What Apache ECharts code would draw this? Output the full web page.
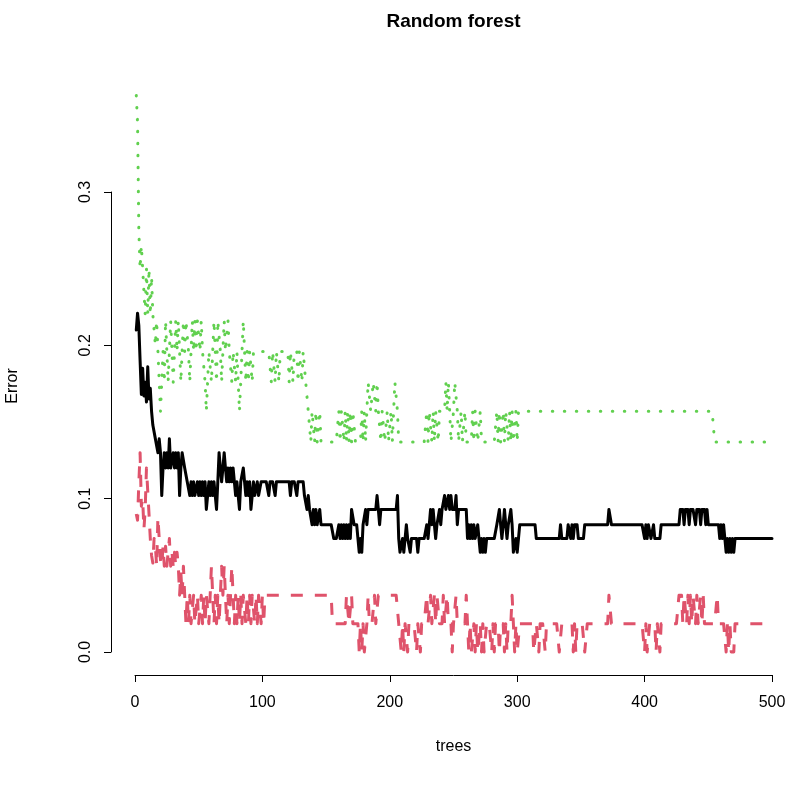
<!DOCTYPE html>
<html>
<head>
<meta charset="utf-8">
<script src="https://cdn.jsdelivr.net/npm/echarts@6/dist/echarts.min.js"></script>
<style>
html,body{margin:0;padding:0;background:#fff;}
#chart{width:800px;height:788px;}
</style>
</head>
<body>
<div id="chart"></div>
<script>
// Error rates, stored as change points: [tree, value], value held until next change point.
const nTrees = 500;
const xTicks = [0, 100, 200, 300, 400, 500];
const yTicks = [0.0, 0.1, 0.2, 0.3];

const oobSteps = [[1,.210],[2,.221],[3,.213],[4,.190],[5,.168],[6,.185],[7,.167],[8,.176],[9,.163],[10,.186],[11,.165],[12,.172],[13,.157],[14,.148],[16,.139],[18,.130],[19,.139],[20,.130],[21,.102],[22,.120],[23,.130],[24,.120],[25,.130],[26,.120],[27,.139],[28,.120],[30,.130],[31,.120],[32,.130],[33,.120],[34,.130],[35,.102],[36,.120],[37,.130],[39,.120],[41,.111],[43,.102],[44,.111],[45,.102],[46,.111],[47,.102],[49,.111],[50,.102],[51,.111],[52,.102],[53,.111],[54,.102],[55,.111],[56,.093],[57,.102],[58,.111],[59,.102],[60,.111],[61,.102],[62,.111],[63,.102],[64,.093],[65,.111],[66,.130],[67,.120],[68,.111],[69,.120],[70,.130],[71,.120],[72,.111],[73,.120],[74,.111],[75,.120],[76,.111],[77,.120],[78,.111],[79,.102],[80,.111],[81,.102],[82,.093],[83,.111],[85,.120],[86,.111],[87,.102],[88,.111],[89,.102],[90,.111],[91,.093],[92,.102],[93,.111],[94,.102],[96,.111],[97,.102],[99,.111],[105,.102],[106,.111],[110,.102],[111,.111],[122,.102],[123,.111],[127,.102],[128,.111],[133,.102],[135,.093],[136,.102],[137,.093],[139,.083],[140,.093],[141,.083],[142,.093],[143,.083],[145,.093],[146,.083],[156,.074],[160,.083],[161,.074],[162,.083],[163,.074],[164,.083],[165,.074],[166,.083],[167,.074],[168,.083],[169,.074],[170,.093],[172,.083],[175,.074],[176,.065],[177,.074],[178,.065],[179,.083],[181,.093],[182,.083],[183,.093],[190,.102],[191,.093],[192,.083],[193,.093],[206,.102],[207,.074],[208,.065],[210,.074],[211,.065],[213,.083],[214,.074],[216,.065],[217,.074],[222,.065],[223,.074],[229,.083],[230,.074],[231,.083],[232,.093],[233,.083],[234,.093],[235,.083],[236,.074],[237,.083],[239,.093],[240,.083],[241,.093],[243,.102],[244,.093],[246,.102],[247,.093],[248,.102],[249,.093],[252,.102],[253,.083],[254,.093],[261,.074],[262,.083],[263,.074],[264,.083],[265,.074],[266,.083],[267,.074],[269,.083],[270,.074],[271,.065],[272,.074],[273,.065],[274,.074],[275,.065],[276,.074],[284,.083],[286,.093],[287,.083],[288,.074],[289,.083],[290,.093],[291,.083],[292,.074],[293,.083],[295,.093],[296,.083],[297,.065],[299,.074],[300,.065],[301,.074],[302,.083],[315,.074],[334,.083],[335,.074],[340,.083],[342,.074],[343,.083],[344,.074],[345,.083],[348,.074],[353,.083],[372,.093],[374,.083],[400,.074],[401,.083],[402,.074],[403,.083],[405,.074],[407,.083],[408,.074],[413,.083],[428,.093],[431,.083],[432,.093],[435,.083],[436,.093],[440,.083],[441,.093],[444,.083],[445,.093],[448,.083],[449,.093],[450,.083],[459,.074],[460,.083],[461,.074],[462,.083],[463,.074],[464,.065],[465,.074],[466,.065],[467,.074],[468,.065],[469,.074],[470,.065],[471,.074]];

const class1Steps = [[1,.090],[2,.086],[3,.110],[4,.130],[5,.095],[6,.100],[7,.080],[8,.093],[9,.120],[10,.105],[11,.090],[12,.074],[13,.063],[14,.058],[15,.074],[16,.069],[17,.056],[18,.088],[19,.074],[20,.060],[21,.056],[22,.069],[23,.056],[24,.069],[25,.056],[26,.065],[27,.074],[28,.056],[29,.065],[30,.056],[31,.065],[32,.056],[33,.065],[34,.056],[35,.037],[36,.052],[37,.037],[38,.056],[39,.037],[40,.0185],[41,.037],[42,.0185],[43,.037],[44,.0185],[46,.037],[47,.0185],[49,.037],[50,.0185],[52,.037],[53,.0185],[54,.037],[55,.0185],[56,.037],[58,.0185],[59,.037],[60,.056],[61,.037],[62,.0185],[63,.037],[64,.0185],[65,.037],[66,.0185],[67,.037],[68,.056],[69,.037],[70,.056],[71,.037],[72,.0185],[73,.037],[74,.0185],[75,.037],[76,.056],[77,.037],[78,.0185],[79,.037],[80,.0185],[81,.037],[82,.0185],[83,.037],[84,.0185],[85,.037],[87,.0185],[88,.037],[89,.0185],[90,.037],[91,.0185],[92,.037],[94,.0185],[95,.037],[96,.0185],[97,.037],[99,.0185],[100,.037],[101,.0185],[102,.037],[155,.0185],[166,.037],[168,.0185],[170,.037],[171,.0185],[176,0],[177,.0185],[178,0],[179,.0185],[180,0],[182,.0185],[183,.037],[184,.0185],[188,.037],[189,.0185],[191,.037],[207,.0185],[209,0],[210,.0185],[211,0],[212,.0185],[214,0],[215,.0185],[221,0],[222,.0185],[224,0],[225,.0185],[229,.037],[230,.0185],[232,.037],[233,.0185],[235,.037],[236,.0185],[237,.037],[239,.0185],[242,.037],[243,.0185],[245,.037],[246,.0185],[249,0],[250,.0185],[252,.037],[253,.0185],[260,.037],[261,.0185],[262,0],[263,.0185],[264,0],[266,.0185],[267,0],[268,.0185],[269,0],[271,.0185],[272,0],[273,.0185],[274,0],[276,.0185],[280,0],[281,.0185],[282,0],[283,.0185],[286,0],[287,.0185],[290,0],[291,.0185],[292,0],[293,.0185],[296,.037],[297,.0185],[298,0],[299,.0185],[300,0],[302,.0185],[313,0],[315,.0185],[317,0],[318,.0185],[322,0],[323,.0185],[333,0],[335,.0185],[344,0],[345,.0185],[346,0],[347,.0185],[353,0],[355,.0185],[372,.037],[374,.0185],[400,0],[401,.0185],[402,0],[404,.0185],[409,0],[410,.0185],[412,0],[413,.0185],[427,.037],[430,.0185],[431,.037],[433,.0185],[434,.037],[435,.0185],[436,.037],[437,.0185],[438,.037],[440,.0185],[441,.037],[442,.0185],[444,.037],[445,.0185],[446,.037],[447,.0185],[457,.037],[458,.0185],[464,0],[465,.0185],[466,0],[467,.0185],[468,0],[471,.0185]];

const class2Steps = [[1,.363],[2,.345],[3,.275],[4,.250],[5,.265],[6,.250],[8,.220],[9,.250],[10,.220],[11,.250],[12,.220],[13,.245],[14,.220],[16,.200],[17,.216],[18,.196],[19,.176],[20,.157],[21,.176],[22,.196],[23,.176],[24,.216],[25,.196],[26,.176],[27,.196],[28,.216],[29,.196],[30,.176],[31,.196],[32,.216],[33,.196],[34,.216],[36,.176],[37,.196],[38,.216],[39,.196],[40,.216],[42,.196],[43,.176],[44,.196],[45,.216],[46,.196],[47,.216],[48,.196],[49,.216],[51,.196],[52,.216],[53,.196],[55,.176],[56,.157],[57,.176],[58,.196],[60,.176],[61,.196],[62,.216],[63,.196],[64,.176],[65,.216],[67,.196],[68,.176],[69,.196],[70,.216],[71,.196],[73,.216],[74,.196],[76,.176],[77,.196],[79,.176],[80,.196],[81,.176],[82,.157],[83,.176],[84,.196],[85,.216],[86,.196],[87,.176],[88,.196],[89,.176],[90,.196],[92,.176],[93,.196],[107,.176],[108,.196],[110,.176],[111,.196],[113,.176],[114,.196],[121,.176],[122,.196],[124,.176],[125,.196],[128,.176],[129,.196],[131,.176],[132,.196],[134,.176],[136,.157],[138,.137],[139,.157],[141,.137],[142,.157],[143,.137],[145,.157],[146,.137],[160,.157],[161,.137],[162,.157],[164,.137],[165,.157],[166,.137],[167,.157],[168,.137],[169,.157],[170,.137],[171,.157],[173,.137],[178,.157],[179,.137],[180,.157],[181,.137],[182,.157],[183,.176],[185,.157],[187,.176],[189,.157],[190,.176],[191,.157],[193,.137],[194,.157],[196,.137],[198,.157],[199,.137],[201,.157],[202,.137],[203,.157],[204,.176],[206,.157],[207,.137],[229,.157],[230,.137],[231,.157],[233,.137],[234,.157],[235,.137],[236,.157],[238,.137],[239,.157],[244,.176],[245,.157],[246,.176],[247,.157],[248,.137],[250,.157],[251,.176],[253,.157],[254,.137],[256,.157],[257,.137],[259,.157],[260,.137],[265,.157],[266,.137],[267,.157],[269,.137],[271,.157],[272,.137],[284,.157],[285,.137],[286,.157],[287,.137],[289,.157],[290,.137],[291,.157],[293,.137],[294,.157],[295,.137],[296,.157],[297,.137],[299,.157],[300,.137],[301,.157],[455,.137]];

function expand(steps) {
  const out = [];
  for (let i = 0; i < steps.length; i++) {
    const t0 = steps[i][0], v = steps[i][1];
    const t1 = i + 1 < steps.length ? steps[i + 1][0] : nTrees + 1;
    for (let t = t0; t < t1; t++) out.push([t, v]);
  }
  return out;
}

const FONT = '"Liberation Sans", Arial, Helvetica, sans-serif';
const chart = echarts.init(document.getElementById('chart'), null, {renderer: 'canvas'});

const option = {
  animation: false,
  backgroundColor: '#ffffff',
  grid: {left: 135, right: 28, top: 192, bottom: 136, containLabel: false},
  xAxis: {
    type: 'value', min: xTicks[0], max: xTicks[xTicks.length - 1], interval: 100, offset: 23,
    axisLine: {show: true, onZero: false, lineStyle: {color: '#000', width: 1}},
    axisTick: {show: true, length: 7, lineStyle: {color: '#000', width: 1}},
    axisLabel: {color: '#000', fontSize: 16, fontFamily: FONT, margin: 20},
    splitLine: {show: false},
    name: 'trees', nameLocation: 'middle', nameGap: 64,
    nameTextStyle: {color: '#000', fontSize: 16, fontFamily: FONT}
  },
  yAxis: {
    type: 'value', min: yTicks[0], max: yTicks[yTicks.length - 1], interval: 0.1, offset: 24,
    axisLine: {show: true, onZero: false, lineStyle: {color: '#000', width: 1}},
    axisTick: {show: true, length: 7, lineStyle: {color: '#000', width: 1}},
    axisLabel: {color: '#000', fontSize: 16, fontFamily: FONT, margin: 17, rotate: 90,
      formatter: function (v) { return v.toFixed(1); }},
    splitLine: {show: false}
  },
  graphic: [
    {type: 'text', x: 453.5, y: 22, style: {text: 'Random forest', fill: '#000',
      font: 'bold 19px ' + FONT, textAlign: 'center', textVerticalAlign: 'middle'}},
    {type: 'text', x: 13, y: 386, rotation: Math.PI / 2, style: {text: 'Error', fill: '#000',
      font: '16px ' + FONT, textAlign: 'center', textVerticalAlign: 'middle'}}
  ],
  series: [
    {name: 'OOB', type: 'line', data: expand(oobSteps), showSymbol: false, symbol: 'none',
      clip: false, smooth: false,
      lineStyle: {color: '#000000', width: 3, type: 'solid', join: 'round', cap: 'round'}},
    {name: '1', type: 'line', data: expand(class1Steps), showSymbol: false, symbol: 'none',
      clip: false, smooth: false,
      lineStyle: {color: '#DF536B', width: 3, type: [12, 12], join: 'round', cap: 'butt'}},
    {name: '2', type: 'line', data: expand(class2Steps), showSymbol: false, symbol: 'none',
      clip: false, smooth: false,
      lineStyle: {color: '#61D04F', width: 3, type: [0.5, 11.5], join: 'round', cap: 'round'}}
  ]
};
chart.setOption(option);
</script>
</body>
</html>
